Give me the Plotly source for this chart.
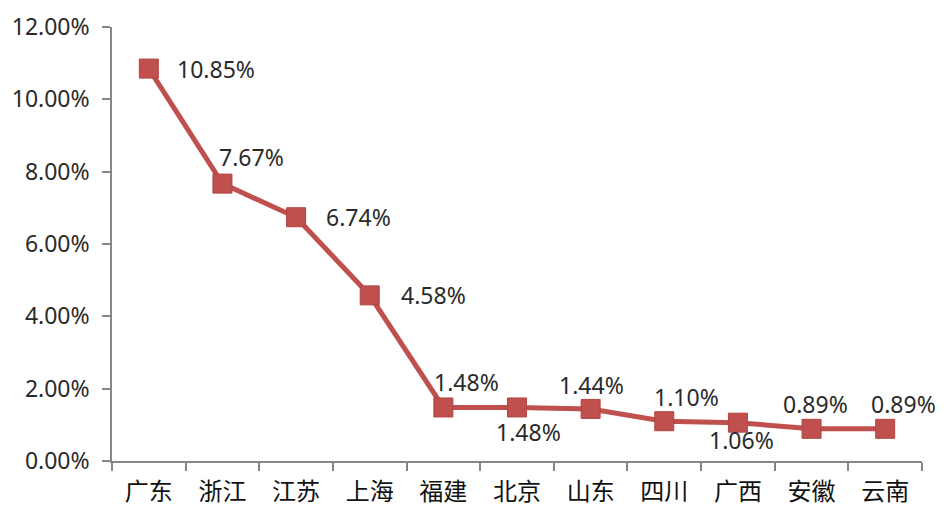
import plotly.graph_objects as go

categories = ["广东", "浙江", "江苏", "上海", "福建", "北京", "山东", "四川", "广西", "安徽", "云南"]
values = [10.85, 7.67, 6.74, 4.58, 1.48, 1.48, 1.44, 1.10, 1.06, 0.89, 0.89]
y_ticks = [0, 2, 4, 6, 8, 10, 12]
y_tick_labels = ["0.00%", "2.00%", "4.00%", "6.00%", "8.00%", "10.00%", "12.00%"]

# label offsets (pixels) relative to each marker
label_dx = [26, -5, 28, 29, -11, -23, -34, -12, -31, -31, -16]
label_dy = [0, 27, 0, 0, 25, -25, 24, 24, -17, 25, 25]

red = "#C0504D"

fig = go.Figure()
fig.add_trace(go.Scatter(
    x=categories, y=values, mode="lines+markers",
    line=dict(color=red, width=5),
    marker=dict(symbol="square", size=19, color=red, line=dict(color="#B04542", width=1)),
    hoverinfo="skip", showlegend=False,
))

for c, v, dx, dy in zip(categories, values, label_dx, label_dy):
    fig.add_annotation(
        x=c, y=v, text=f"{v:.2f}%", showarrow=False,
        xanchor="left", yanchor="middle", xshift=dx, yshift=dy,
        font=dict(family="Noto Sans, sans-serif", size=23, color="#2a2a2a"),
    )

fig.update_layout(
    width=944, height=506,
    margin=dict(l=104, r=30, t=19, b=53, autoexpand=False),
    paper_bgcolor="white", plot_bgcolor="white",
    xaxis=dict(
        type="category", range=[-0.5, 10.5], tickson="boundaries", automargin=False,
        ticks="outside", ticklen=8, tickcolor="#868686", tickwidth=1.5,
        showline=True, linecolor="#868686", linewidth=1.5,
        showgrid=False, zeroline=False, ticklabelstandoff=8,
        tickfont=dict(family="Noto Sans CJK SC, sans-serif", size=24, color="#111111"),
    ),
    yaxis=dict(
        range=[0, 12], tickvals=y_ticks, ticktext=y_tick_labels, automargin=False,
        ticks="outside", ticklen=8, tickcolor="#868686", tickwidth=1.5,
        showline=True, linecolor="#868686", linewidth=1.5,
        showgrid=False, zeroline=False, ticklabelstandoff=8,
        tickfont=dict(family="Noto Sans, sans-serif", size=23, color="#2a2a2a"),
    ),
)

fig.write_html("out.html")
